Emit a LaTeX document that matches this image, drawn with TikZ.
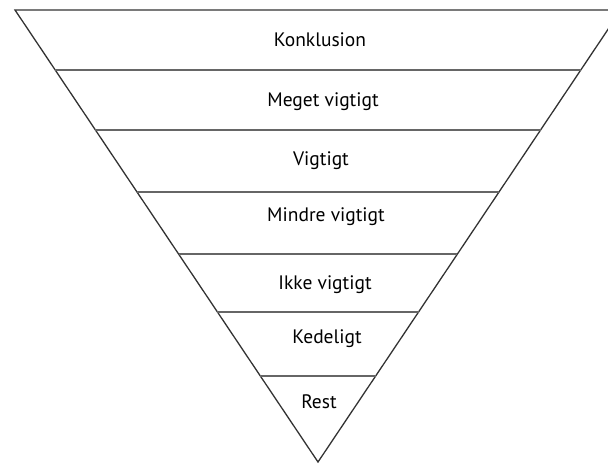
\documentclass[tikz,border=0pt]{standalone}
\usepackage{fontspec}
\setsansfont{PT Sans}
\usetikzlibrary{calc}
\tikzset{
  rand/.style={draw=black!80, line width=1.3pt},
  trenner/.style={draw=black!60, line width=1.6pt},
  stufe/.style={anchor=base, inner sep=0pt, text=black,
    font=\sffamily\fontsize{19.5}{21}\selectfont},
}
\begin{document}
\begin{tikzpicture}[x=1pt, y=-1pt]
    \useasboundingbox (0,0) rectangle (608,464);
    \clip (0,0) rectangle (608,464);
    % Trichter
    \coordinate (links)  at (15, 10);
    \coordinate (rechts) at (621, 10);
    \coordinate (spitze) at (318, 462);
    \draw [rand] (rechts) -- (links) -- (spitze) -- cycle;
    % Trennlinien
    \foreach \t in {0.1327, 0.2655, 0.4027, 0.5398, 0.6681, 0.8097}
        \draw [trenner] ($(links)!\t!(spitze)$) -- ($(rechts)!\t!(spitze)$);
    % Stufen
    \node [stufe] (konklusion) at (320,  46) {Konklusion};
    \node [stufe] (meget)      at (323, 106) {Meget vigtigt};
    \node [stufe] (vigtigt)    at (321, 165) {Vigtigt};
    \node [stufe] (mindre)     at (326, 221) {Mindre vigtigt};
    \node [stufe] (ikke)       at (325, 289) {Ikke vigtigt};
    \node [stufe] (kedeligt)   at (327, 343) {Kedeligt};
    \node [stufe] (rest)       at (319, 408) {Rest};
\end{tikzpicture}
\end{document}
